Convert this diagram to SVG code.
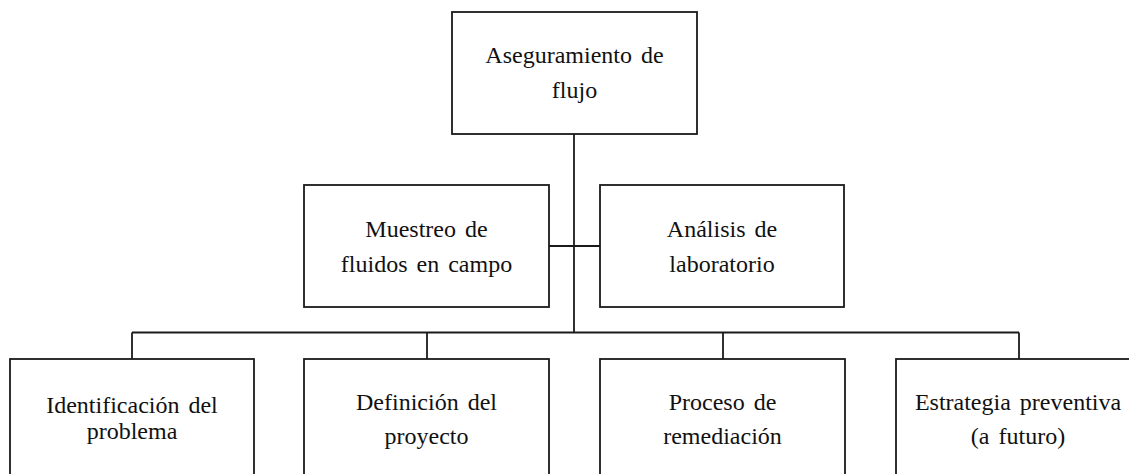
<svg xmlns="http://www.w3.org/2000/svg" width="1129" height="474" viewBox="0 0 1129 474">
<style>
.box{fill:#fff;stroke:#1a1a1a;stroke-width:1.8}
.ln{fill:none;stroke:#1a1a1a;stroke-width:1.8}
.t{font-family:'Liberation Serif','DejaVu Serif',serif;font-size:24px;fill:#111;text-anchor:middle;word-spacing:3px}
</style>
<rect width="1129" height="474" fill="#fff"/>
<g id="connectors">
<line class="ln" x1="574" y1="134" x2="574" y2="332.5"/>
<line class="ln" x1="549" y1="246" x2="600" y2="246"/>
<line class="ln" x1="132" y1="332.5" x2="1019" y2="332.5"/>
<line class="ln" x1="132" y1="332.5" x2="132" y2="359"/>
<line class="ln" x1="427" y1="332.5" x2="427" y2="359"/>
<line class="ln" x1="723" y1="332.5" x2="723" y2="359"/>
<line class="ln" x1="1019" y1="332.5" x2="1019" y2="359"/>
</g>
<g id="n-aseguramiento">
<rect class="box" x="452" y="12" width="245" height="122"/>
<text class="t" x="574.5" y="63" font-family="Liberation Serif, serif">Aseguramiento de</text>
<text class="t" x="574.5" y="98" font-family="Liberation Serif, serif">flujo</text>
</g>
<g id="n-muestreo">
<rect class="box" x="304" y="185" width="245" height="122"/>
<text class="t" x="426.5" y="236.5">Muestreo de</text>
<text class="t" x="426.5" y="271.5">fluidos en campo</text>
</g>
<g id="n-analisis">
<rect class="box" x="600" y="185" width="244" height="122"/>
<text class="t" x="722" y="236.5">Análisis de</text>
<text class="t" x="722" y="271.5">laboratorio</text>
</g>
<g id="n-identificacion">
<rect class="box" x="10" y="359" width="244" height="140"/>
<text class="t" x="132" y="413">Identificación del</text>
<text class="t" x="132" y="439">problema</text>
</g>
<g id="n-definicion">
<rect class="box" x="304" y="359" width="245" height="140"/>
<text class="t" x="426.5" y="410">Definición del</text>
<text class="t" x="426.5" y="444">proyecto</text>
</g>
<g id="n-proceso">
<rect class="box" x="600" y="359" width="245" height="140"/>
<text class="t" x="722.5" y="410">Proceso de</text>
<text class="t" x="722.5" y="444">remediación</text>
</g>
<g id="n-estrategia">
<rect class="box" x="896" y="359" width="246" height="140"/>
<text class="t" x="1018" y="410">Estrategia preventiva</text>
<text class="t" x="1018" y="444">(a futuro)</text>
</g>
</svg>
